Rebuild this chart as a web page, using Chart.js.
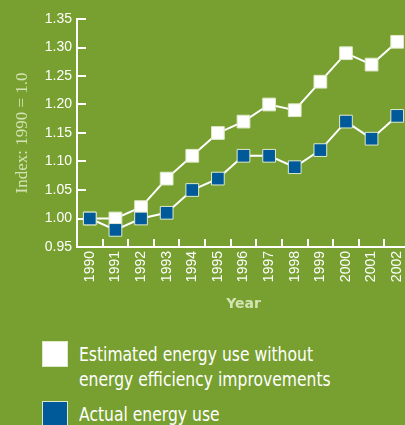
<!DOCTYPE html>
<html>
<head>
<meta charset="utf-8">
<script src="https://cdn.jsdelivr.net/npm/chart.js@4"></script>
<style>
    html, body {
        margin: 0;
        padding: 0;
        width: 405px;
        height: 425px;
        overflow: hidden;
        background: #78a030;
    }
    #wrap {
        position: absolute;
        left: 0;
        top: 0;
        width: 420px;
        height: 320px;
    }
    .legend-box {
        position: absolute;
        left: 42px;
        width: 24px;
        height: 24px;
        border: 1px solid #dfe9c9;
    }
    .legend-text {
        position: absolute;
        left: 79px;
        color: #ffffff;
        font-family: "DejaVu Sans", sans-serif;
        font-size: 19px;
        line-height: 25px;
        white-space: nowrap;
        transform: scaleX(0.82);
        transform-origin: 0 0;
    }
</style>
</head>
<body>
<div id="wrap">
    <canvas id="energy_Chart" width="420" height="320"></canvas>
</div>
<div class="legend-box" style="top:341px; background:#ffffff;"></div>
<div class="legend-text" style="top:342px;">Estimated energy use without<br>energy efficiency improvements</div>
<div class="legend-box" style="top:401px; background:#005a9a;"></div>
<div class="legend-text" style="top:402px;">Actual energy use</div>

<script>
// 연도
const years = ['1990', '1991', '1992', '1993', '1994', '1995', '1996',
               '1997', '1998', '1999', '2000', '2001', '2002'];
// 효율 개선이 없었을 경우 추정 에너지 사용량 (1990 = 1.0)
const estimatedUse = [1.00, 1.00, 1.02, 1.07, 1.11, 1.15, 1.17, 1.20, 1.19, 1.24, 1.29, 1.27, 1.31];
// 실제 에너지 사용량
const actualUse = [1.00, 0.98, 1.00, 1.01, 1.05, 1.07, 1.11, 1.11, 1.09, 1.12, 1.17, 1.14, 1.18];

const yMin = 0.95;
const yMax = 1.35;
const yStep = 0.05;

// 축 안쪽으로 향하는 눈금 그리기
const innerTicks = {
    id: 'innerTicks',
    beforeDatasetsDraw(chart) {
        const {ctx, scales: {x, y}, chartArea} = chart;
        ctx.save();
        ctx.strokeStyle = '#ffffff';
        ctx.lineWidth = 2;
        ctx.beginPath();
        y.ticks.forEach((t, i) => {
            const py = Math.round(y.getPixelForTick(i));
            ctx.moveTo(chartArea.left, py);
            ctx.lineTo(chartArea.left + 9, py);
        });
        const half = (x.getPixelForValue(1) - x.getPixelForValue(0)) / 2;
        for (let i = 1; i <= years.length; i++) {
            const px = Math.round(x.getPixelForValue(i) - half);
            ctx.moveTo(px, chartArea.bottom);
            ctx.lineTo(px, chartArea.bottom - 8);
        }
        ctx.stroke();
        ctx.restore();
    }
};

const ctx_energy = document.getElementById('energy_Chart').getContext('2d');
new Chart(ctx_energy, {
    type: 'line',
    data: {
        labels: years,
        datasets: [{
            label: 'Actual energy use',
            data: actualUse,
            borderColor: '#ffffff',
            borderWidth: 2,
            pointStyle: 'rect',
            pointRadius: 9,
            pointBackgroundColor: '#005a9a',
            pointBorderColor: '#dfe9c9',
            pointBorderWidth: 1,
            tension: 0
        }, {
            label: 'Estimated energy use without energy efficiency improvements',
            data: estimatedUse,
            borderColor: '#ffffff',
            borderWidth: 2,
            pointStyle: 'rect',
            pointRadius: 9,
            pointBackgroundColor: '#ffffff',
            pointBorderColor: '#dfe9c9',
            pointBorderWidth: 1,
            tension: 0
        }]
    },
    options: {
        responsive: false,
        animation: false,
        layout: {
            padding: {top: 19, right: 7, bottom: 0, left: 0}
        },
        plugins: {
            legend: {display: false},
            tooltip: {enabled: false}
        },
        scales: {
            x: {
                offset: true,
                grid: {display: false, drawTicks: false},
                border: {color: '#ffffff', width: 2},
                ticks: {
                    color: '#ffffff',
                    maxRotation: 90,
                    minRotation: 90,
                    padding: 4,
                    autoSkip: false,
                    font: {family: '"Liberation Sans", Arial, sans-serif', size: 14}
                },
                title: {
                    display: true,
                    text: 'Year',
                    color: '#d3e3b3',
                    padding: {top: 0, bottom: 7},
                    font: {family: '"DejaVu Sans", sans-serif', size: 14, weight: 'bold'}
                },
                afterFit(scale) {
                    scale.height = 73;
                }
            },
            y: {
                min: yMin,
                max: yMax,
                grid: {display: false, drawTicks: false},
                border: {color: '#ffffff', width: 2},
                ticks: {
                    stepSize: yStep,
                    color: '#ffffff',
                    padding: 5,
                    font: {family: '"Liberation Sans", Arial, sans-serif', size: 14},
                    callback: function(value) {
                        return value.toFixed(2);
                    }
                },
                title: {
                    display: true,
                    text: 'Index: 1990 = 1.0',
                    color: '#d3e3b3',
                    padding: {top: 12, bottom: 0},
                    font: {family: '"Liberation Serif", serif', size: 17}
                },
                afterFit(scale) {
                    scale.width = 77;
                }
            }
        }
    },
    plugins: [innerTicks]
});
</script>
</body>
</html>
